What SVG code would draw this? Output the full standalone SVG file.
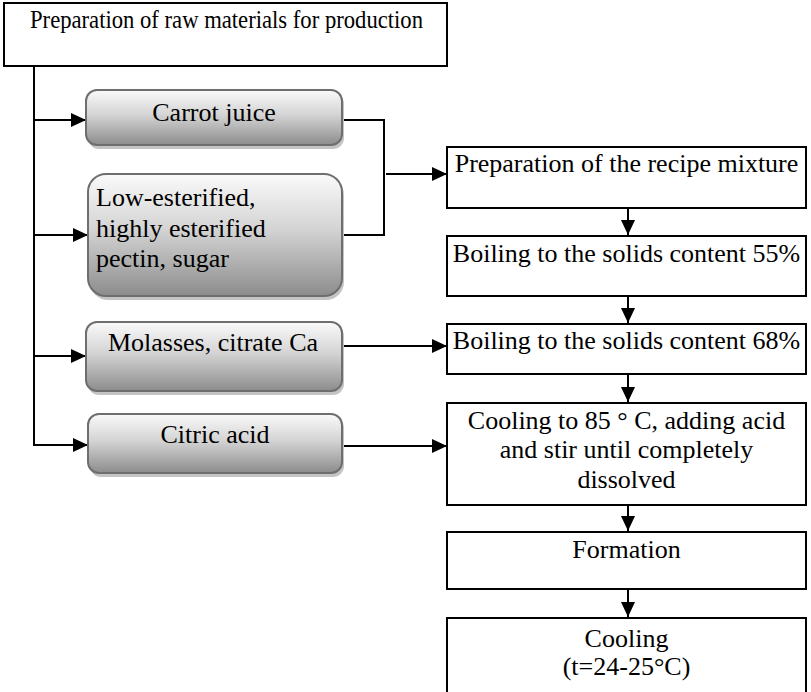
<svg xmlns="http://www.w3.org/2000/svg" width="811" height="692" viewBox="0 0 811 692">
<defs>
<linearGradient id="g" x1="0" y1="0" x2="0" y2="1">
<stop offset="0" stop-color="#fafafa"/>
<stop offset="0.45" stop-color="#d4d4d4"/>
<stop offset="1" stop-color="#8c8c8c"/>
</linearGradient>
<marker id="ah" markerUnits="userSpaceOnUse" markerWidth="15" markerHeight="14" refX="15" refY="7" orient="auto">
<path d="M0,0 L15,7 L0,14 z" fill="#000"/>
</marker>
</defs>
<style>
text{font-family:"Liberation Serif","Times New Roman",serif;font-size:26px;fill:#000}
.c{text-anchor:middle}
.box{fill:#fff;stroke:#000;stroke-width:2}
.rbox{fill:url(#g);stroke:#6e6e6e;stroke-width:2}
.sh{fill:#c4c4c4;stroke:none}
.ln{fill:none;stroke:#000;stroke-width:2}
.ar{fill:none;stroke:#000;stroke-width:2;marker-end:url(#ah)}
</style>
<rect width="811" height="692" fill="#fff"/>
<g id="connectors">
<polyline class="ln" points="34,66 34,445"/>
<line class="ar" x1="34" y1="120" x2="86" y2="120"/>
<line class="ar" x1="34" y1="235" x2="88" y2="235"/>
<line class="ar" x1="34" y1="356" x2="86" y2="356"/>
<line class="ar" x1="33" y1="445" x2="88" y2="445"/>
<polyline class="ln" points="342,120 384,120 384,235 342,235"/>
<line class="ar" x1="386" y1="174" x2="447" y2="174"/>
<line class="ar" x1="342" y1="346" x2="447" y2="346"/>
<line class="ar" x1="342" y1="446" x2="447" y2="446"/>
<line class="ar" x1="628" y1="208" x2="628" y2="235"/>
<line class="ar" x1="628" y1="296" x2="628" y2="323"/>
<line class="ar" x1="628" y1="374" x2="628" y2="402"/>
<line class="ar" x1="628" y1="505" x2="628" y2="531"/>
<line class="ar" x1="628" y1="589" x2="628" y2="617"/>
</g>
<g id="n-title">
<rect class="box" x="4" y="3" width="443" height="63"/>
<text class="c" x="226.5" y="28" font-size="24" textLength="393" lengthAdjust="spacingAndGlyphs">Preparation of raw materials for production</text>
</g>
<g id="n-carrot">
<rect class="sh" x="88" y="93" width="256" height="56" rx="11"/>
<rect class="rbox" x="86" y="90" width="256" height="55" rx="11"/>
<text class="c" x="214" y="121">Carrot juice</text>
</g>
<g id="n-pectin">
<rect class="sh" x="90" y="177" width="254" height="123" rx="18"/>
<rect class="rbox" x="88" y="174" width="254" height="122" rx="18"/>
<text x="96" y="206">Low-esterified,</text>
<text x="96" y="237">highly esterified</text>
<text x="96" y="267">pectin, sugar</text>
</g>
<g id="n-molasses">
<rect class="sh" x="88" y="325" width="256" height="70" rx="11"/>
<rect class="rbox" x="86" y="322" width="256" height="69" rx="11"/>
<text class="c" x="213" y="351">Molasses, citrate Ca</text>
</g>
<g id="n-citric">
<rect class="sh" x="90" y="417" width="254" height="60" rx="11"/>
<rect class="rbox" x="88" y="414" width="254" height="59" rx="11"/>
<text class="c" x="215" y="443">Citric acid</text>
</g>
<g id="n-recipe">
<rect class="box" x="447" y="147" width="359" height="61"/>
<text class="c" x="626.5" y="172">Preparation of the recipe mixture</text>
</g>
<g id="n-boil55">
<rect class="box" x="447" y="236" width="359" height="60"/>
<text class="c" x="626.5" y="262">Boiling to the solids content 55%</text>
</g>
<g id="n-boil68">
<rect class="box" x="447" y="324" width="359" height="50"/>
<text class="c" x="626.5" y="349">Boiling to the solids content 68%</text>
</g>
<g id="n-cool85">
<rect class="box" x="447" y="403" width="359" height="102"/>
<text class="c" x="626.5" y="429">Cooling to 85 ° C, adding acid</text>
<text class="c" x="626.5" y="458">and stir until completely</text>
<text class="c" x="626.5" y="488">dissolved</text>
</g>
<g id="n-formation">
<rect class="box" x="447" y="532" width="359" height="57"/>
<text class="c" x="626.5" y="558">Formation</text>
</g>
<g id="n-cooling">
<rect class="box" x="447" y="618" width="359" height="80"/>
<text class="c" x="626.5" y="647">Cooling</text>
<text class="c" x="626.5" y="675">(t=24-25°C)</text>
</g>
</svg>
